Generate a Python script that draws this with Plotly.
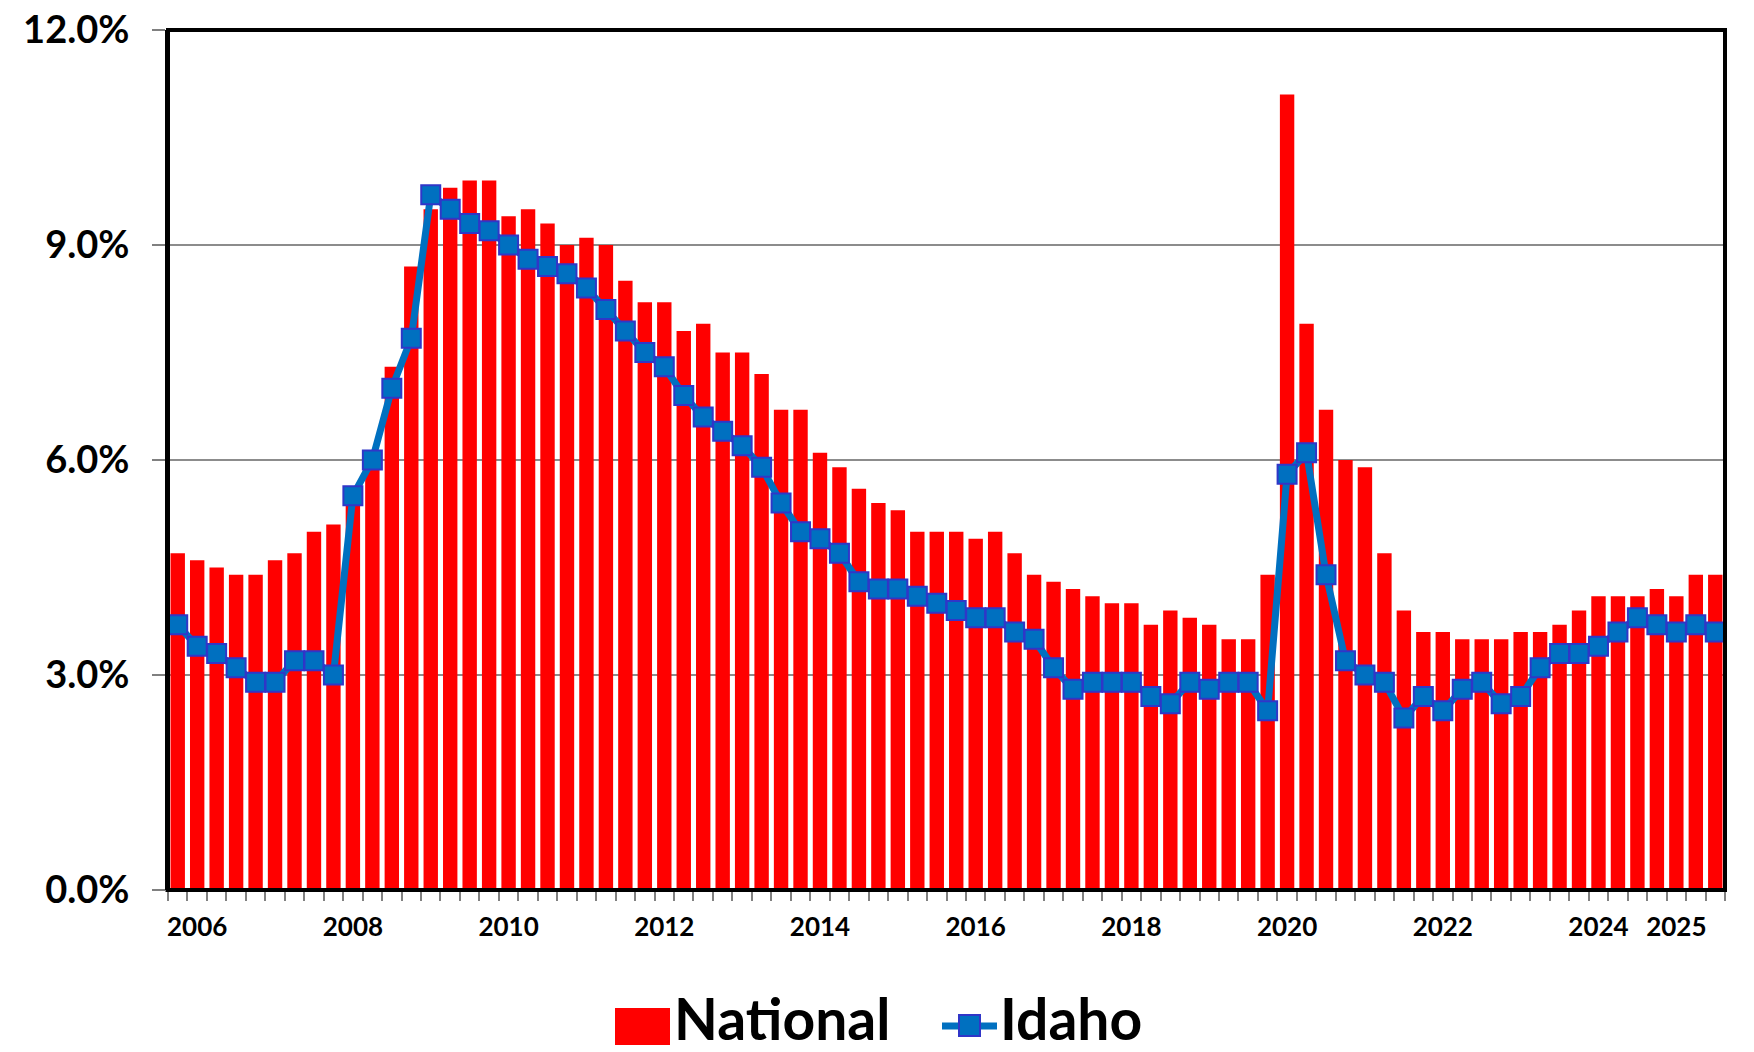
import plotly.graph_objects as go

years = list(range(2006, 2026))
quarters = [f"{y} Q{q}" for y in years for q in range(1, 5)]

national = [
    4.7, 4.6, 4.5, 4.4, 4.4, 4.6, 4.7, 5.0,
    5.1, 5.4, 6.0, 7.3, 8.7, 9.5, 9.8, 9.9,
    9.9, 9.4, 9.5, 9.3, 9.0, 9.1, 9.0, 8.5,
    8.2, 8.2, 7.8, 7.9, 7.5, 7.5, 7.2, 6.7,
    6.7, 6.1, 5.9, 5.6, 5.4, 5.3, 5.0, 5.0,
    5.0, 4.9, 5.0, 4.7, 4.4, 4.3, 4.2, 4.1,
    4.0, 4.0, 3.7, 3.9, 3.8, 3.7, 3.5, 3.5,
    4.4, 11.1, 7.9, 6.7, 6.0, 5.9, 4.7, 3.9,
    3.6, 3.6, 3.5, 3.5, 3.5, 3.6, 3.6, 3.7,
    3.9, 4.1, 4.1, 4.1, 4.2, 4.1, 4.4, 4.4,
]

idaho = [
    3.7, 3.4, 3.3, 3.1, 2.9, 2.9, 3.2, 3.2,
    3.0, 5.5, 6.0, 7.0, 7.7, 9.7, 9.5, 9.3,
    9.2, 9.0, 8.8, 8.7, 8.6, 8.4, 8.1, 7.8,
    7.5, 7.3, 6.9, 6.6, 6.4, 6.2, 5.9, 5.4,
    5.0, 4.9, 4.7, 4.3, 4.2, 4.2, 4.1, 4.0,
    3.9, 3.8, 3.8, 3.6, 3.5, 3.1, 2.8, 2.9,
    2.9, 2.9, 2.7, 2.6, 2.9, 2.8, 2.9, 2.9,
    2.5, 5.8, 6.1, 4.4, 3.2, 3.0, 2.9, 2.4,
    2.7, 2.5, 2.8, 2.9, 2.6, 2.7, 3.1, 3.3,
    3.3, 3.4, 3.6, 3.8, 3.7, 3.6, 3.7, 3.6,
]

tick_labels = ["2006", "2008", "2010", "2012", "2014", "2016",
               "2018", "2020", "2022", "2024", "2025"]
y_ticks = [0, 3, 6, 9, 12]

x = list(range(1, len(quarters) + 1))
tick_pos = [quarters.index(f"{t} Q2") + 1 for t in tick_labels]

FONT = "Lato"
BLUE = "#0070C0"
EDGE = "#3036C8"

fig = go.Figure()
fig.add_trace(go.Bar(
    x=x, y=national, name="National", marker=dict(color="#FF0000", line=dict(width=0)),
    customdata=quarters, hovertemplate="%{customdata}: %{y:.1f}%<extra>National</extra>",
))
fig.add_trace(go.Scatter(
    x=x, y=idaho, name="Idaho", mode="lines+markers",
    line=dict(color=BLUE, width=7),
    marker=dict(symbol="square", size=19, color=BLUE, line=dict(color=EDGE, width=2)),
    customdata=quarters, hovertemplate="%{customdata}: %{y:.1f}%<extra>Idaho</extra>",
))

# body margin is removed by post_script, so the figure fills the window from (0, 0)
W, H = 1754, 1052
# plot area on screen: left 168, right 1725, top 30, bottom 890
L, T, R, B = 168, 30, W - 1725, H - 890
pw, ph = 1725 - 168, 890 - 30

def px(xs):
    return (xs - 168) / pw

def py(ys):
    return (890 - ys) / ph

shapes = [
    dict(type="rect", xref="paper", yref="paper", x0=0, x1=1, y0=0, y1=1,
         line=dict(color="black", width=4), layer="above"),
    dict(type="rect", xref="paper", yref="paper", x0=px(615), x1=px(670),
         y0=py(1045), y1=py(1008), fillcolor="#FF0000", line=dict(width=0)),
    dict(type="line", xref="paper", yref="paper", x0=px(942), x1=px(997),
         y0=py(1026), y1=py(1026), line=dict(color=BLUE, width=7)),
    dict(type="rect", xref="paper", yref="paper", x0=px(959), x1=px(980),
         y0=py(1036), y1=py(1015), fillcolor=BLUE, line=dict(color=EDGE, width=2)),
]

annotations = [
    dict(xref="paper", yref="paper", x=px(672), y=py(1018), text="National",
         showarrow=False, xanchor="left", yanchor="middle",
         font=dict(family=FONT, size=57, color="black", weight="bold")),
    dict(xref="paper", yref="paper", x=px(998), y=py(1018), text="Idaho",
         showarrow=False, xanchor="left", yanchor="middle",
         font=dict(family=FONT, size=57, color="black", weight="bold")),
]

fig.update_layout(
    width=W, height=H,
    margin=dict(l=L, r=R, t=T, b=B, pad=0),
    paper_bgcolor="white", plot_bgcolor="white",
    showlegend=False,
    bargap=0.26,
    shapes=shapes,
    annotations=annotations,
    font=dict(family=FONT, color="black"),
    xaxis=dict(
        range=[0.5, len(x) + 0.5], automargin=False,
        tickvals=tick_pos, ticktext=tick_labels,
        ticks="", showgrid=False, zeroline=False,
        showline=True, linecolor="#808080", linewidth=2,
        tickfont=dict(family=FONT, size=26, color="black", weight="bold"),
        ticklabelstandoff=13, ticklabeloverflow="allow",
        minor=dict(tickvals=[v + 0.5 for v in [0] + x], ticks="outside",
                   ticklen=9, tickwidth=2, tickcolor="#808080", showgrid=False),
    ),
    yaxis=dict(
        range=[0, 12], tickvals=y_ticks, automargin=False,
        ticktext=[f"{v:.1f}%" for v in y_ticks],
        ticks="outside", ticklen=13, tickwidth=2, tickcolor="#808080",
        showgrid=True, gridcolor="#8C8C8C", gridwidth=2,
        zeroline=False, showline=True, linecolor="black", linewidth=3,
        tickfont=dict(family=FONT, size=38, color="black", weight="bold"),
        ticklabelstandoff=15, ticklabeloverflow="allow",
    ),
)

fig.write_html(
    "out.html",
    config={"displayModeBar": False},
    post_script="document.body.style.margin='0px';document.body.style.overflow='hidden';",
)
